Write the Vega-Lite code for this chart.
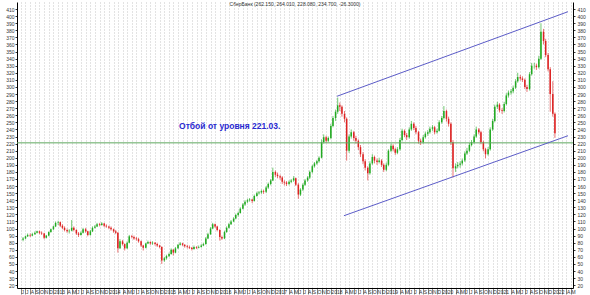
{
"$schema": "https://vega.github.io/schema/vega-lite/v6.json",
"width": 556, "height": 286,
"autosize": "none",
"padding": {"left": 17, "top": 2, "right": 17, "bottom": 7},
"background": "white",
"view": {"stroke": null},
"title": {"text": "СберБанк (262.150, 264.010, 228.080, 234.700, -26.3000)", "fontSize": 5, "fontWeight": "normal", "font": "Liberation Sans", "color": "#333333", "offset": -5, "anchor": "middle"},
"config": {"axis": {"labelFont": "Liberation Sans", "labelFontSize": 5, "labelColor": "#333333", "domainColor": "#000000", "tickColor": "#000000", "domainWidth": 1, "tickWidth": 0.8}},
"datasets": {"candles": [
{"d":"2012-06-15","o":84,"h":88,"l":82,"c":86},
{"d":"2012-07-01","o":86,"h":90,"l":85,"c":89},
{"d":"2012-07-15","o":89,"h":93,"l":88,"c":91},
{"d":"2012-08-01","o":91,"h":93,"l":88,"c":90},
{"d":"2012-08-15","o":90,"h":94,"l":89,"c":92},
{"d":"2012-09-01","o":92,"h":96,"l":91,"c":94},
{"d":"2012-09-15","o":94,"h":97,"l":93,"c":96},
{"d":"2012-10-01","o":96,"h":97,"l":92,"c":94},
{"d":"2012-10-15","o":94,"h":96,"l":91,"c":93},
{"d":"2012-11-01","o":93,"h":94,"l":85,"c":87},
{"d":"2012-11-15","o":87,"h":91,"l":86,"c":90},
{"d":"2012-12-01","o":90,"h":96,"l":89,"c":95},
{"d":"2012-12-15","o":95,"h":100,"l":94,"c":99},
{"d":"2013-01-01","o":99,"h":104,"l":98,"c":103},
{"d":"2013-01-15","o":103,"h":110,"l":102,"c":108},
{"d":"2013-02-01","o":108,"h":111,"l":105,"c":109},
{"d":"2013-02-15","o":109,"h":110,"l":102,"c":104},
{"d":"2013-03-01","o":104,"h":106,"l":99,"c":101},
{"d":"2013-03-15","o":101,"h":103,"l":96,"c":98},
{"d":"2013-04-01","o":98,"h":100,"l":94,"c":96},
{"d":"2013-04-15","o":96,"h":99,"l":93,"c":97},
{"d":"2013-05-01","o":97,"h":112,"l":96,"c":101},
{"d":"2013-05-15","o":101,"h":103,"l":96,"c":98},
{"d":"2013-06-01","o":98,"h":99,"l":91,"c":93},
{"d":"2013-06-15","o":93,"h":95,"l":88,"c":91},
{"d":"2013-07-01","o":91,"h":96,"l":90,"c":94},
{"d":"2013-07-15","o":94,"h":101,"l":93,"c":99},
{"d":"2013-08-01","o":99,"h":101,"l":94,"c":96},
{"d":"2013-08-15","o":96,"h":97,"l":89,"c":91},
{"d":"2013-09-01","o":91,"h":98,"l":90,"c":96},
{"d":"2013-09-15","o":96,"h":103,"l":95,"c":101},
{"d":"2013-10-01","o":101,"h":105,"l":100,"c":103},
{"d":"2013-10-15","o":103,"h":108,"l":102,"c":106},
{"d":"2013-11-01","o":106,"h":108,"l":103,"c":105},
{"d":"2013-11-15","o":105,"h":109,"l":104,"c":107},
{"d":"2013-12-01","o":107,"h":108,"l":102,"c":104},
{"d":"2013-12-15","o":104,"h":106,"l":101,"c":103},
{"d":"2014-01-01","o":103,"h":104,"l":99,"c":101},
{"d":"2014-01-15","o":101,"h":103,"l":97,"c":99},
{"d":"2014-02-01","o":99,"h":100,"l":94,"c":96},
{"d":"2014-02-15","o":96,"h":98,"l":92,"c":94},
{"d":"2014-03-01","o":94,"h":95,"l":66,"c":72},
{"d":"2014-03-15","o":72,"h":85,"l":71,"c":82},
{"d":"2014-04-01","o":82,"h":84,"l":76,"c":78},
{"d":"2014-04-15","o":78,"h":79,"l":69,"c":72},
{"d":"2014-05-01","o":72,"h":82,"l":71,"c":80},
{"d":"2014-05-15","o":80,"h":91,"l":79,"c":89},
{"d":"2014-06-01","o":89,"h":91,"l":86,"c":88},
{"d":"2014-06-15","o":88,"h":90,"l":84,"c":86},
{"d":"2014-07-01","o":86,"h":88,"l":83,"c":85},
{"d":"2014-07-15","o":85,"h":87,"l":80,"c":82},
{"d":"2014-08-01","o":82,"h":83,"l":74,"c":76},
{"d":"2014-08-15","o":76,"h":77,"l":69,"c":73},
{"d":"2014-09-01","o":73,"h":80,"l":72,"c":79},
{"d":"2014-09-15","o":79,"h":83,"l":78,"c":81},
{"d":"2014-10-01","o":81,"h":82,"l":77,"c":79},
{"d":"2014-10-15","o":79,"h":82,"l":77,"c":80},
{"d":"2014-11-01","o":80,"h":81,"l":76,"c":78},
{"d":"2014-11-15","o":78,"h":80,"l":74,"c":76},
{"d":"2014-12-01","o":76,"h":77,"l":72,"c":74},
{"d":"2014-12-15","o":74,"h":75,"l":50,"c":55},
{"d":"2015-01-01","o":55,"h":60,"l":53,"c":58},
{"d":"2015-01-15","o":58,"h":63,"l":56,"c":61},
{"d":"2015-02-01","o":61,"h":66,"l":60,"c":64},
{"d":"2015-02-15","o":64,"h":72,"l":63,"c":70},
{"d":"2015-03-01","o":70,"h":71,"l":62,"c":66},
{"d":"2015-03-15","o":66,"h":74,"l":65,"c":72},
{"d":"2015-04-01","o":72,"h":78,"l":71,"c":77},
{"d":"2015-04-15","o":77,"h":81,"l":76,"c":79},
{"d":"2015-05-01","o":79,"h":80,"l":75,"c":77},
{"d":"2015-05-15","o":77,"h":78,"l":73,"c":75},
{"d":"2015-06-01","o":75,"h":77,"l":72,"c":74},
{"d":"2015-06-15","o":74,"h":76,"l":71,"c":73},
{"d":"2015-07-01","o":73,"h":74,"l":69,"c":71},
{"d":"2015-07-15","o":71,"h":76,"l":70,"c":74},
{"d":"2015-08-01","o":74,"h":75,"l":71,"c":73},
{"d":"2015-08-15","o":73,"h":76,"l":72,"c":74},
{"d":"2015-09-01","o":74,"h":78,"l":73,"c":76},
{"d":"2015-09-15","o":76,"h":80,"l":75,"c":78},
{"d":"2015-10-01","o":78,"h":88,"l":77,"c":86},
{"d":"2015-10-15","o":86,"h":94,"l":85,"c":92},
{"d":"2015-11-01","o":92,"h":102,"l":91,"c":100},
{"d":"2015-11-15","o":100,"h":108,"l":99,"c":106},
{"d":"2015-12-01","o":106,"h":107,"l":101,"c":103},
{"d":"2015-12-15","o":103,"h":104,"l":96,"c":98},
{"d":"2016-01-01","o":98,"h":99,"l":83,"c":88},
{"d":"2016-01-15","o":88,"h":90,"l":84,"c":86},
{"d":"2016-02-01","o":86,"h":97,"l":85,"c":95},
{"d":"2016-02-15","o":95,"h":103,"l":94,"c":101},
{"d":"2016-03-01","o":101,"h":108,"l":100,"c":106},
{"d":"2016-03-15","o":106,"h":112,"l":105,"c":110},
{"d":"2016-04-01","o":110,"h":116,"l":109,"c":114},
{"d":"2016-04-15","o":114,"h":121,"l":113,"c":119},
{"d":"2016-05-01","o":119,"h":124,"l":117,"c":122},
{"d":"2016-05-15","o":122,"h":130,"l":121,"c":128},
{"d":"2016-06-01","o":128,"h":136,"l":127,"c":134},
{"d":"2016-06-15","o":134,"h":140,"l":132,"c":138},
{"d":"2016-07-01","o":138,"h":142,"l":136,"c":140},
{"d":"2016-07-15","o":140,"h":143,"l":138,"c":141},
{"d":"2016-08-01","o":141,"h":142,"l":136,"c":139},
{"d":"2016-08-15","o":139,"h":148,"l":138,"c":146},
{"d":"2016-09-01","o":146,"h":152,"l":145,"c":150},
{"d":"2016-09-15","o":150,"h":153,"l":148,"c":151},
{"d":"2016-10-01","o":151,"h":155,"l":149,"c":153},
{"d":"2016-10-15","o":153,"h":155,"l":149,"c":152},
{"d":"2016-11-01","o":152,"h":160,"l":150,"c":158},
{"d":"2016-11-15","o":158,"h":165,"l":156,"c":163},
{"d":"2016-12-01","o":163,"h":170,"l":161,"c":168},
{"d":"2016-12-15","o":168,"h":186,"l":167,"c":180},
{"d":"2017-01-01","o":180,"h":182,"l":173,"c":176},
{"d":"2017-01-15","o":176,"h":179,"l":171,"c":174},
{"d":"2017-02-01","o":174,"h":176,"l":169,"c":172},
{"d":"2017-02-15","o":172,"h":174,"l":163,"c":166},
{"d":"2017-03-01","o":166,"h":168,"l":161,"c":165},
{"d":"2017-03-15","o":165,"h":167,"l":160,"c":163},
{"d":"2017-04-01","o":163,"h":168,"l":161,"c":166},
{"d":"2017-04-15","o":166,"h":170,"l":164,"c":168},
{"d":"2017-05-01","o":168,"h":174,"l":166,"c":171},
{"d":"2017-05-15","o":171,"h":172,"l":160,"c":162},
{"d":"2017-06-01","o":162,"h":164,"l":142,"c":148},
{"d":"2017-06-15","o":148,"h":157,"l":146,"c":155},
{"d":"2017-07-01","o":155,"h":164,"l":153,"c":162},
{"d":"2017-07-15","o":162,"h":170,"l":160,"c":168},
{"d":"2017-08-01","o":168,"h":174,"l":166,"c":172},
{"d":"2017-08-15","o":172,"h":182,"l":170,"c":180},
{"d":"2017-09-01","o":180,"h":190,"l":178,"c":188},
{"d":"2017-09-15","o":188,"h":194,"l":186,"c":192},
{"d":"2017-10-01","o":192,"h":197,"l":190,"c":195},
{"d":"2017-10-15","o":195,"h":202,"l":193,"c":200},
{"d":"2017-11-01","o":200,"h":226,"l":199,"c":222},
{"d":"2017-11-15","o":222,"h":233,"l":220,"c":229},
{"d":"2017-12-01","o":229,"h":231,"l":221,"c":224},
{"d":"2017-12-15","o":224,"h":230,"l":222,"c":228},
{"d":"2018-01-01","o":228,"h":248,"l":226,"c":245},
{"d":"2018-01-15","o":245,"h":259,"l":243,"c":256},
{"d":"2018-02-01","o":256,"h":268,"l":252,"c":265},
{"d":"2018-02-15","o":265,"h":285,"l":262,"c":274},
{"d":"2018-03-01","o":274,"h":278,"l":266,"c":272},
{"d":"2018-03-15","o":272,"h":274,"l":258,"c":262},
{"d":"2018-04-01","o":262,"h":266,"l":250,"c":255},
{"d":"2018-04-15","o":255,"h":257,"l":196,"c":210},
{"d":"2018-05-01","o":210,"h":233,"l":207,"c":230},
{"d":"2018-05-15","o":230,"h":240,"l":227,"c":236},
{"d":"2018-06-01","o":236,"h":238,"l":224,"c":228},
{"d":"2018-06-15","o":228,"h":231,"l":220,"c":224},
{"d":"2018-07-01","o":224,"h":226,"l":211,"c":215},
{"d":"2018-07-15","o":215,"h":218,"l":201,"c":205},
{"d":"2018-08-01","o":205,"h":208,"l":191,"c":195},
{"d":"2018-08-15","o":195,"h":198,"l":182,"c":186},
{"d":"2018-09-01","o":186,"h":188,"l":168,"c":178},
{"d":"2018-09-15","o":178,"h":195,"l":176,"c":192},
{"d":"2018-10-01","o":192,"h":205,"l":190,"c":201},
{"d":"2018-10-15","o":201,"h":203,"l":192,"c":196},
{"d":"2018-11-01","o":196,"h":199,"l":190,"c":194},
{"d":"2018-11-15","o":194,"h":200,"l":192,"c":196},
{"d":"2018-12-01","o":196,"h":198,"l":187,"c":190},
{"d":"2018-12-15","o":190,"h":192,"l":180,"c":183},
{"d":"2019-01-01","o":183,"h":193,"l":181,"c":190},
{"d":"2019-01-15","o":190,"h":212,"l":188,"c":210},
{"d":"2019-02-01","o":210,"h":220,"l":208,"c":217},
{"d":"2019-02-15","o":217,"h":219,"l":209,"c":212},
{"d":"2019-03-01","o":212,"h":214,"l":204,"c":207},
{"d":"2019-03-15","o":207,"h":215,"l":205,"c":212},
{"d":"2019-04-01","o":212,"h":228,"l":210,"c":225},
{"d":"2019-04-15","o":225,"h":241,"l":223,"c":238},
{"d":"2019-05-01","o":238,"h":240,"l":229,"c":232},
{"d":"2019-05-15","o":232,"h":235,"l":225,"c":229},
{"d":"2019-06-01","o":229,"h":243,"l":227,"c":240},
{"d":"2019-06-15","o":240,"h":252,"l":238,"c":248},
{"d":"2019-07-01","o":248,"h":250,"l":239,"c":242},
{"d":"2019-07-15","o":242,"h":245,"l":233,"c":236},
{"d":"2019-08-01","o":236,"h":238,"l":220,"c":224},
{"d":"2019-08-15","o":224,"h":227,"l":218,"c":222},
{"d":"2019-09-01","o":222,"h":232,"l":220,"c":229},
{"d":"2019-09-15","o":229,"h":237,"l":227,"c":234},
{"d":"2019-10-01","o":234,"h":239,"l":231,"c":236},
{"d":"2019-10-15","o":236,"h":244,"l":234,"c":241},
{"d":"2019-11-01","o":241,"h":246,"l":238,"c":243},
{"d":"2019-11-15","o":243,"h":245,"l":233,"c":236},
{"d":"2019-12-01","o":236,"h":241,"l":234,"c":238},
{"d":"2019-12-15","o":238,"h":253,"l":237,"c":250},
{"d":"2020-01-01","o":250,"h":259,"l":248,"c":256},
{"d":"2020-01-15","o":256,"h":273,"l":254,"c":266},
{"d":"2020-02-01","o":266,"h":268,"l":251,"c":255},
{"d":"2020-02-15","o":255,"h":258,"l":244,"c":248},
{"d":"2020-03-01","o":248,"h":250,"l":218,"c":222},
{"d":"2020-03-15","o":222,"h":225,"l":172,"c":185},
{"d":"2020-04-01","o":185,"h":192,"l":180,"c":188},
{"d":"2020-04-15","o":188,"h":194,"l":185,"c":190},
{"d":"2020-05-01","o":190,"h":195,"l":186,"c":192},
{"d":"2020-05-15","o":192,"h":199,"l":189,"c":196},
{"d":"2020-06-01","o":196,"h":209,"l":194,"c":206},
{"d":"2020-06-15","o":206,"h":214,"l":204,"c":210},
{"d":"2020-07-01","o":210,"h":221,"l":208,"c":218},
{"d":"2020-07-15","o":218,"h":225,"l":216,"c":222},
{"d":"2020-08-01","o":222,"h":233,"l":220,"c":230},
{"d":"2020-08-15","o":230,"h":244,"l":228,"c":240},
{"d":"2020-09-01","o":240,"h":242,"l":233,"c":236},
{"d":"2020-09-15","o":236,"h":238,"l":219,"c":222},
{"d":"2020-10-01","o":222,"h":224,"l":209,"c":212},
{"d":"2020-10-15","o":212,"h":214,"l":199,"c":205},
{"d":"2020-11-01","o":205,"h":215,"l":203,"c":212},
{"d":"2020-11-15","o":212,"h":243,"l":210,"c":240},
{"d":"2020-12-01","o":240,"h":255,"l":238,"c":252},
{"d":"2020-12-15","o":252,"h":275,"l":250,"c":272},
{"d":"2021-01-01","o":272,"h":279,"l":269,"c":275},
{"d":"2021-01-15","o":275,"h":277,"l":264,"c":267},
{"d":"2021-02-01","o":267,"h":270,"l":262,"c":266},
{"d":"2021-02-15","o":266,"h":279,"l":264,"c":276},
{"d":"2021-03-01","o":276,"h":291,"l":274,"c":288},
{"d":"2021-03-15","o":288,"h":295,"l":285,"c":292},
{"d":"2021-04-01","o":292,"h":297,"l":289,"c":294},
{"d":"2021-04-15","o":294,"h":302,"l":291,"c":299},
{"d":"2021-05-01","o":299,"h":311,"l":297,"c":308},
{"d":"2021-05-15","o":308,"h":320,"l":306,"c":314},
{"d":"2021-06-01","o":314,"h":317,"l":309,"c":312},
{"d":"2021-06-15","o":312,"h":315,"l":307,"c":310},
{"d":"2021-07-01","o":310,"h":312,"l":297,"c":300},
{"d":"2021-07-15","o":300,"h":303,"l":293,"c":297},
{"d":"2021-08-01","o":297,"h":321,"l":295,"c":318},
{"d":"2021-08-15","o":318,"h":334,"l":316,"c":330},
{"d":"2021-09-01","o":330,"h":334,"l":326,"c":330},
{"d":"2021-09-15","o":330,"h":333,"l":324,"c":328},
{"d":"2021-10-01","o":328,"h":344,"l":326,"c":340},
{"d":"2021-10-15","o":340,"h":390,"l":338,"c":378},
{"d":"2021-11-01","o":378,"h":382,"l":360,"c":365},
{"d":"2021-11-15","o":365,"h":368,"l":342,"c":345},
{"d":"2021-12-01","o":345,"h":348,"l":322,"c":325},
{"d":"2021-12-15","o":325,"h":328,"l":265,"c":290},
{"d":"2022-01-01","o":290,"h":308,"l":258,"c":262},
{"d":"2022-01-15","o":262.15,"h":264.01,"l":228.08,"c":234.7}
]},
"layer": [
{"data": {"name": "candles"},
 "mark": {"type": "rule", "strokeWidth": 0.8, "opacity": 0.8},
 "encoding": {
  "x": {"field": "d", "type": "temporal", "scale": {"domain": ["2012-06-08", "2022-04-11"]},
        "axis": {"orient": "bottom", "title": null, "tickCount": {"interval": "month", "step": 1}, "grid": true, "gridDash": [1, 2], "gridColor": "#b8b8b8", "gridWidth": 0.8,
                 "labelExpr": "month(datum.value)==0 ? timeFormat(datum.value,'%Y') : (month(datum.value)<3 ? '' : slice(timeFormat(datum.value,'%b'),0,1))",
                 "labelOverlap": false, "labelAlign": "left", "labelBaseline": "top", "labelPadding": -5, "tickSize": 6, "labelFlush": false, "tickColor": "#666666"}},
  "y": {"field": "l", "type": "quantitative", "scale": {"domain": [16, 420], "nice": false, "zero": false},
        "axis": {"orient": "left", "title": null, "values": [20,30,40,50,60,70,80,90,100,110,120,130,140,150,160,170,180,190,200,210,220,230,240,250,260,270,280,290,300,310,320,330,340,350,360,370,380,390,400,410], "tickSize": 2, "labelPadding": 1, "grid": false}},
  "y2": {"field": "h"},
  "color": {"condition": {"test": "datum.c >= datum.o", "value": "#22aa22"}, "value": "#dd2222"}
 }},
{"data": {"name": "candles"},
 "mark": {"type": "bar", "size": 1.5},
 "encoding": {
  "x": {"field": "d", "type": "temporal"},
  "y": {"field": "o", "type": "quantitative",
        "axis": {"orient": "right", "title": null, "values": [20,30,40,50,60,70,80,90,100,110,120,130,140,150,160,170,180,190,200,210,220,230,240,250,260,270,280,290,300,310,320,330,340,350,360,370,380,390,400,410], "tickSize": 2, "labelPadding": 2, "grid": false}},
  "y2": {"field": "c"},
  "color": {"condition": {"test": "datum.c >= datum.o", "value": "#22aa22"}, "value": "#dd2222"}
 }},
{"data": {"values": [{"v": 221.03}]},
 "mark": {"type": "rule", "color": "#5fa85f", "strokeWidth": 1},
 "encoding": {"y": {"field": "v", "type": "quantitative", "axis": null}}},
{"data": {"values": [
  {"g": "u", "d": "2018-02-10", "v": 286.8}, {"g": "u", "d": "2022-04-11", "v": 406.3},
  {"g": "l", "d": "2018-03-28", "v": 118.1}, {"g": "l", "d": "2022-04-11", "v": 231.1}]},
 "mark": {"type": "line", "color": "#5c5cc8", "strokeWidth": 1},
 "encoding": {"x": {"field": "d", "type": "temporal"}, "y": {"field": "v", "type": "quantitative", "axis": null}, "detail": {"field": "g"}}},
{"data": {"values": [{"d": "2015-04-08", "v": 245, "t": "Отбой от уровня 221.03."}]},
 "mark": {"type": "text", "align": "left", "baseline": "middle", "font": "Liberation Sans", "fontSize": 8.5, "fontWeight": "bold", "color": "#2a2ad0"},
 "encoding": {"x": {"field": "d", "type": "temporal"}, "y": {"field": "v", "type": "quantitative", "axis": null}, "text": {"field": "t"}}}
],
"resolve": {"axis": {"y": "independent"}}
}
